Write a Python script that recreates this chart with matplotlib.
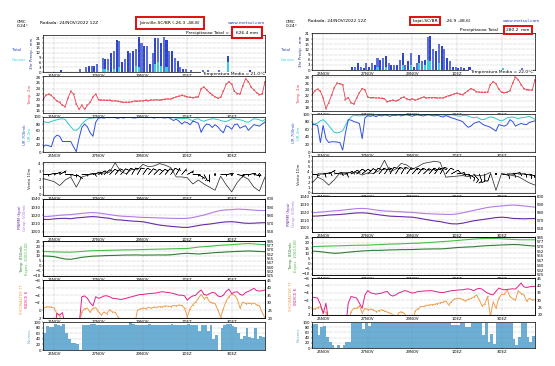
import numpy as np
import matplotlib
matplotlib.use('Agg')
import matplotlib.pyplot as plt

# ---------------- DATA ----------------
date_hours = [12, 60, 108, 156, 204]
date_labels = ['25NOV', '27NOV', '29NOV', '1DEZ', '3DEZ']

# Left panel: Joinville
L_precip_total = [0,0,0,0,0,0,1,0,0,0,0,0,0,2,0,3,4,4,4,5,0,9,8,8,12,13,20,19,6,8,13,12,13,14,22,18,16,16,5,12,
                  21,21,18,22,20,13,13,9,7,3,2,2,0,1,0,0,0,1,0,1,0,0,0,1,0,0,10,0,0,0,0,0,0,0,1,0,0,0,0,0]
L_precip_conv = [0,0,0,0,0,0,0,0,0,0,0,0,0,0,0,0,0,0,0,0,0,2,2,1,0,2,0,3,0,0,0,0,0,4,3,0,0,0,0,0,
                 5,6,4,0,3,0,0,0,0,0,0,0,0,0,0,0,0,0,0,0,0,0,0,0,0,0,6,0,0,0,0,0,0,0,0,0,0,0,0,0]
L_temp = [20,21.5,22,21.5,20.5,19.5,19,18,17.5,20.5,23,22,18.5,16.5,18,16.5,18,19,21,22,
          20,19.8,19.8,19.7,19.8,19.5,19.6,19.4,19.2,19.0,19.1,19.0,19.3,19.5,19.4,19.6,19.5,19.8,19.6,19.9,
          19.8,20.0,19.8,20.0,20.1,20.3,20.2,20.6,21.0,21.2,21.5,21.3,21.0,20.8,20.7,20.9,21.0,24.0,24.5,23.5,
          22.5,21.8,21.0,20.5,20.8,23.0,25.5,26.5,25.5,23.0,22.2,22.0,25.0,27.5,26.5,24.5,23.5,22.5,21.8,22.0,26.5]
L_rh2m = [88,85,84,87,90,92,94,95,93,82,72,63,62,68,80,88,94,96,97,98,98,
          99,98,100,99,98,99,100,99,98,100,99,99,100,98,99,100,99,98,99,100,99,98,99,100,99,98,98,
          97,96,95,96,97,92,90,94,95,90,88,91,93,95,94,93,90,88,87,90,95,95,93,92,90,86,85,90,95,94,92,88,93]
L_rh700 = [15,20,18,15,40,48,45,30,30,30,30,15,1,40,70,80,72,55,45,85,
           97,98,97,99,98,100,98,96,99,97,99,100,98,97,99,100,99,98,100,99,
           97,99,100,98,97,99,95,90,94,88,80,86,84,78,88,86,82,56,72,80,
           78,70,78,72,62,55,75,72,65,78,80,68,72,75,62,70,78,76,74,80,86]
L_wind = [2.1,1.9,1.7,1.2,1.9,2.3,1.0,2.3,2.5,2.7,2.7,2.8,2.9,4.1,3.0,2.7,3.3,3.2,3.9,3.6,
          3.7,4.0,3.8,3.5,2.3,2.3,2.2,1.4,1.9,1.4,1.0,0.6,2.4,1.3,0.4,1.6,2.4,2.0,1.0,0.5,2.3]
L_wdir = [90,80,70,60,90,100,120,90,80,70,60,50,45,40,40,35,30,30,35,40,
          45,45,40,35,30,40,60,90,120,150,180,200,90,80,120,100,90,80,100,120,90]
L_pnmm = [1015.3,1015.0,1015.8,1016.3,1016.5,1016.0,1017.0,1017.5,1018.2,1018.6,1018.0,1017.2,1016.5,1014.8,
          1014.5,1013.8,1013.2,1012.8,1012.3,1011.0,1009.6,1008.3,1007.5,1006.8,1006.2,1005.6,1005.4,1006.5,
          1007.8,1008.8,1009.5,1010.5,1011.5,1012.2,1012.4,1011.8,1010.8,1010.4,1010.6,1011.0,1011.2]
L_geop = [578.6,578.8,579.5,580.2,580.7,581.0,581.8,582.5,583.2,583.5,583.0,582.0,581.0,580.0,579.2,578.8,
          578.5,578.0,577.6,577.5,577.2,577.0,576.8,576.5,576.4,576.3,576.5,577.5,579.0,580.5,582.5,584.5,
          586.0,586.8,587.0,587.7,587.5,587.0,586.5,586.0,586.0]
L_t850 = [10,9.8,9.3,8.0,6.8,6.5,7.5,8.6,9.2,9.8,10,10.3,10.5,10.6,10.8,11,11,11.1,10.9,11,11,11.1,11,11.2,
          11.8,12.5,12.8,12.4,12.1,12.5,13,13.5,13.8,14.2,14.5,14.8,15,15.2,15,14.7,14.5]
L_thick = [567,566.8,566.5,566.2,566,565.9,566.5,567.2,568,568.5,568.8,569,569.3,569.5,569.8,570,570,570.3,
           570.5,570.8,571,571.3,571.5,571.8,572,572.2,572.4,573.5,574.9,575.5,576.2,577.3,578,578.6,579,
           579.8,580.5,580.9,580.4,579.5,579]
L_showalter = [-0.6,-0.9,-0.9,-0.9,-0.6,0.8,1.5, 4,4,4,4,4,4,4,
               0.4,-0.5,-0.6,0.5,-0.6,-0.7,0.4,1.2,0.4,0.9,-0.2,0.4,0.5,1.7, 2.5,4,4,4,4,4,
               0.0,-0.4,-0.6,-0.5,-0.8,-0.6,-0.9,-0.8,-1.0,-0.9,-1.2,-1.1,-1.0,-1.3,-1.2,-1.4,-1.3,
               -0.6,1.7,-0.5,-1.5,-2.2,-3.2,-4.2,-3.1,-3.5,-2.3,-2.0,-1.8,-0.2,1.8,-0.5,-2.5,-3.6,-4.3,-4.0,-3.0,
               -0.6,-2.2,-1.8,-1.9,-1.8,-1.9,-1.5,-1.2,0.6,1.9]
L_kindex = [10,10,10,10,10, 23,22,23.5,15, 10,10,10,10, 15,
            34,34.5,33,30,28,34,33,33.5,34.5,34.6,34,33,32.8,32.5,32.2,32.5,33,33.5,34,34.5,
            35,35.5,35.5,35.8,36,36.2,36.3,36.5,37,37.3,37,36.8,36.5,36.2,35.5,35,35,34.6,31.7,33.5,
            34.5,35,37,38.4,35.5,35,36,36.8,36.5,34.5,34,35,37.5,39,36,37,37.3,35.5,35,36.8,
            37.5,38.5,39.5,38,37.7,38,38.4]
L_cloud = [62,85,82,82,93,88,85,92,60,40,25,25,21,0,
           90,91,90,92,92,90,88,89,90,88,89,90,88,89,90,89,90,100,92,91,90,91,90,91,92,90,91,90,91,90,
           90,91,92,90,91,90,91,90,92,91,90,91,
           67,91,90,67,90,38,55,0,78,88,92,92,85,82,61,38,50,80,45,43,78,40,50,48,35]

# Right panel: Itajai
R_precip_total = [0,0,0,0,0,0,0,0,0,0,0,0,0,0,2,2,4,2,1,4,2,4,3,7,6,7,8,4,3,3,3,6,10,3,5,10,2,4,9,5,
                  6,19,20,12,11,15,14,12,7,5,2,2,1,2,1,0,2,0,0,0,0,0,0,0,0,0,0,0,1,0,0,0,0,0,0,1,0,0,0,0]
R_precip_conv = [0,0,0,0,0,0,0,0,0,0,0,0,0,0,0,0,0,0,0,0,0,0,0,2,0,0,2,0,0,0,0,0,3,0,0,3,0,0,4,0,
                 3,6,5,0,0,4,0,0,0,0,0,0,0,0,0,0,0,0,0,0,0,0,0,0,0,0,0,0,1,0,0,0,0,0,0,0,0,0,0,0]
R_temp = [22,23.5,24,23.3,21,17.5,19.5,22,24.5,26,25.8,25.5,20.5,21.2,19.5,19.0,21,22.8,24.2,23.8,
          21.3,21.1,21.2,21.0,21.1,20.9,20.8,19.8,20.1,20.3,20.0,20.3,21.0,21.4,20.7,20.5,20.8,20.3,20.6,21.0,
          21.4,21.0,21.2,21.1,21.2,21.0,21.1,21.0,21.5,21.8,22.0,22.4,22.6,22.3,22.2,22.8,23.5,24.2,23.8,23.1,
          23.0,22.9,22.9,23.0,25.5,26.5,25.8,24.0,22.9,22.8,22.9,23.5,26.0,28.0,27.2,25.5,24.2,23.8,23.7,23.6,27.2]
R_rh2m = [75,74,76,82,85,78,70,60,52,50,52,56,70,84,92,97,96,95,96,97,96,
          97,98,97,99,98,97,98,99,98,97,98,99,98,97,98,99,98,98,97,98,99,98,97,98,99,98,97,98,97,98,
          97,95,94,96,96,95,92,90,92,88,85,86,90,92,91,88,84,82,85,90,91,92,90,88,90,91,92,94,90,86]
R_rh700 = [72,72,70,25,70,35,25,27,27,26,25,5,50,85,84,80,78,75,35,90,
           95,94,96,93,97,95,98,96,94,97,96,98,95,97,99,96,94,97,98,96,
           95,97,98,96,95,97,94,92,96,93,90,88,85,83,80,72,65,68,75,78,
           80,74,70,68,65,60,55,72,70,68,72,85,80,68,72,75,73,72,78,80,82]
R_wind = [1.9,3.0,2.5,1.5,2.5,3.8,3.9,3.8,3.9,3.4,3.8,3.7,4.2,6.2,4.0,4.5,5.6,5.3,4.5,5.0,
          5.6,5.8,6.0,5.8,3.0,3.1,3.2,3.3,3.1,3.4,3.3,3.4,3.9,0.5,3.7,3.5,3.3,3.1,2.5,1.9,1.5]
R_wdir = [100,90,80,60,80,90,70,60,50,50,45,40,40,35,30,30,30,35,40,40,
          45,40,35,30,40,60,80,100,120,140,160,180,200,220,100,90,80,90,100,110,100]
R_pnmm = [1014.8,1015.0,1015.5,1016.2,1016.5,1016.9,1017.5,1018.2,1018.8,1019.0,1018.5,1017.5,1016.5,1015.6,
          1014.8,1014.5,1014.2,1013.8,1013.5,1012.5,1011.2,1010.0,1008.8,1008.0,1006.5,1005.3,1005.1,1006.0,
          1007.5,1009.0,1010.0,1011.0,1012.0,1013.0,1013.5,1013.0,1012.0,1011.8,1011.5,1011.8,1011.8]
R_geop = [579.0,579.5,580.2,580.8,581.5,582.0,582.8,583.5,584.2,584.5,584.0,583.0,582.0,581.3,581.0,580.5,
          580.2,579.8,579.5,578.8,578.2,577.8,577.5,577.2,577.0,576.9,577.5,579.0,580.5,582.0,583.5,585.0,
          586.2,587.0,587.5,588.2,588.7,588.3,587.5,586.8,586.1]
R_t850 = [12.1,11.8,11.2,10.5,10,10.2,10.8,11.3,11.8,12.2,12.5,12.8,12.8,13,13.2,13.3,13.5,13.5,13.6,13.8,
          14,14.1,14.2,14.2,14.5,15,15.5,15.8,16.1,16.3,16.8,17.2,17.5,17.7,18,18.2,18.4,18.3,17.8,17.3,17]
R_thick = [570,570.3,570.6,570.9,571.1,571.3,571.6,571.9,572.1,572.2,572.4,572.8,573.2,573.6,574,574.2,
           574.5,574.9,575.3,575.6,576,576.5,577.2,577.8,578.4,579,579.8,580.6,581.3,582,582.5,583,583.2,
           583,582.5,582,581.5,581,580.9,580.9,580.9]
R_showalter = [0.6,0.3,0.0,-0.3,1.1,1.2, 5,5,5,5,5,5,5,5,
               1.1,0.2,0.2,-0.5,1.5,0.2,0.6,0.4,0.6,1.1,0.8,0.6,0.9,1.2,1.5,1.9, 5,
               1.5,1.1,1.5,2.5, 5,5,
               0.9,0.3,-0.3,-0.3,-0.6,-0.7,-0.8,-0.9,-1.1,-1.3,-1.5,-1.8,-0.7,-1.6,-2.3,-2.5,-2.5,-2.2,-1.8,-2.2,
               -2.5,-2.8,-3.5,-2.1,-0.5,-1.0,-3.0,2.5,-1.6,0.2,-2.5,-3.6,-3.6,-4.8,-3.0,-2.4,-2.1,-4.6,-3.8,-3.5,
               -1.8,-2.5,-2.1,-2.1]
R_kindex = [32,31.8,31.4,27.3,21,28,15, 10,10,10,10,10,10,
            28,32.5,32,31.4,28,24.5,33.6,36.5,35,34.5,34.1,34.5,34.8,35.5,35.9,33.6,32.8,33.5,34.8,35.5,
            36.4,36.2,35.5,34.8,35.2,35.9,36,36.2,36.3,36.4,36.4,36,35.6,35.3,35.2,35.6,36,36.4,36.6,36.8,
            37,37,37.4,37.7,37.2,36.4,37.5,38,37.5,36,34.8,34,33.6,36,38.2,37.5,37,37.3,37.5,37.7,
            37.5,39.5,41.6,39,38.6,39,39.3,39.3]
R_cloud = [94,94,50,80,85,42,23,10,0,10,0,10,23,23,97,97,97,97,74,97,85,
           97,96,97,97,95,97,97,97,96,97,97,97,97,95,97,97,97,97,96,97,97,97,97,97,95,97,97,97,97,
           87,87,87,97,97,81,81,97,97,97,97,49,97,23,55,17,97,97,97,97,97,97,36,10,42,97,97,42,23,45,45]

time3 = np.arange(0, 241, 3)
time6 = np.arange(0, 241, 6)
bar_t = np.arange(0, 240, 3) + 1.5

# ---------------- FIGURE ----------------
W, H = 555, 366
fig = plt.figure(figsize=(W / 100, H / 100), dpi=100)
FS = 2.8

C_TOT = '#2d42c8'
C_CONV = '#38d0e0'
C_TEMP = '#e8404c'
C_RH2 = '#30c8c8'
C_RH7 = '#3050e0'
C_PN = '#6a2aa8'
C_GEO = '#b47ae6'
C_T85 = '#2f7d2f'
C_THK = '#44c044'
C_SHO = '#f0a050'
C_K = '#e0208a'
C_CLD = '#6baed6'


def add_ax(x0, x1, top, bot):
    return fig.add_axes([x0 / W, 1 - bot / H, (x1 - x0) / W, (bot - top) / H])


def base(ax, ylim, yticks, ylabels=None, xlabels=date_labels):
    ax.set_xlim(0, 240)
    ax.set_ylim(*ylim)
    ax.set_yticks(yticks)
    if ylabels is not None:
        ax.set_yticklabels(ylabels)
    ax.set_xticks(date_hours)
    ax.set_xticklabels(xlabels)
    ax.tick_params(labelsize=FS, length=1, width=0.3, pad=0.6)
    ax.grid(True, ls=':', lw=0.35, color='#8c8c8c')
    for s in ax.spines.values():
        s.set_linewidth(0.5)


def twin(ax, ylim, yticks, ylabels=None):
    a2 = ax.twinx()
    a2.set_ylim(*ylim)
    a2.set_yticks(yticks)
    if ylabels is not None:
        a2.set_yticklabels(ylabels)
    a2.tick_params(labelsize=FS, length=1, width=0.3, pad=0.6)
    for s in a2.spines.values():
        s.set_linewidth(0.5)
    return a2


def vlabel(x, yc, txt, color):
    fig.text(x / W, 1 - yc / H, txt, rotation=90, ha='center', va='center',
             fontsize=FS, color=color)


def panel(x0, x1, rows, ptot, pconv, pmax, temp, tlim, tticks, rh2, rh7,
          wspd, wdir, wlim, wticks, barb_y, pnmm, geop, t850, thick, sho, kidx, cloud,
          tmean_txt, tmean_x, tmean_y):
    lx1, lx2 = x0 - 20, x0 - 15
    # precipitation
    r = rows[0]
    ax = add_ax(x0, x1, *r)
    base(ax, (0, pmax), [0, 3, 6, 9, 12, 15, 18, 21], xlabels=date_labels[:4] + [''])
    cols = [C_TOT if i % 2 == 0 else '#5a6fe0' for i in range(len(ptot))]
    ax.bar(bar_t, ptot, width=2.2, color=cols, lw=0)
    ax.bar(bar_t, pconv, width=2.2, color=C_CONV, lw=0)
    vlabel(x0 - 11, (r[0] + r[1]) / 2, '3hr Precip - mm', '#203080')
    fig.text((x0 - 31) / W, 1 - 50 / H, 'Total', fontsize=FS, color=C_TOT, ha='left', va='center')
    fig.text((x0 - 31) / W, 1 - 60 / H, 'Convec', fontsize=FS, color=C_CONV, ha='left', va='center')
    # temperature
    r = rows[1]
    ax = add_ax(x0, x1, *r)
    base(ax, tlim, tticks)
    ax.plot(time3, temp, color=C_TEMP, lw=0.6, marker='+', ms=1.4, mew=0.3)
    vlabel(lx2 + 2, (r[0] + r[1]) / 2, 'Temp. 2m', C_TEMP)
    fig.text(tmean_x / W, 1 - tmean_y / H, tmean_txt, fontsize=3.2, ha='right', va='center',
             bbox=dict(fc='white', ec='none', pad=0.3), zorder=10)
    # relative humidity
    r = rows[2]
    ax = add_ax(x0, x1, *r)
    base(ax, (0, 100), [0, 20, 40, 60, 80, 100])
    ax.plot(time3, rh2, color=C_RH2, lw=0.7)
    ax.plot(time3, rh7, color=C_RH7, lw=0.7)
    vlabel(lx1 + 2, (r[0] + r[1]) / 2, 'UR 700mb', C_RH7)
    vlabel(lx2 + 2, (r[0] + r[1]) / 2, 'UR 2m', C_RH2)
    # wind
    r = rows[3]
    ax = add_ax(x0, x1, *r)
    base(ax, wlim, wticks)
    ax.plot(time6, wspd, color='#222222', lw=0.5)
    spd_kt = np.array(wspd) * 1.94 * 1.6
    rad = np.deg2rad(np.array(wdir))
    u = -spd_kt * np.sin(rad)
    v = -spd_kt * np.cos(rad)
    ax.barbs(time6, np.full(len(time6), barb_y), u, v, length=3.3, linewidth=0.35,
             color='k', sizes=dict(emptybarb=0.1, spacing=0.18, height=0.45))
    vlabel(lx2 + 2, (r[0] + r[1]) / 2, 'Vento 10m', '#222222')
    # pressure / geopotential
    r = rows[4]
    ax = add_ax(x0, x1, *r)
    base(ax, (995, 1040), [1000, 1010, 1020, 1030, 1040])
    ax.plot(time6, pnmm, color=C_PN, lw=0.8)
    a2 = twin(ax, (555, 600), [560, 570, 580, 590, 600])
    a2.plot(time6, geop, color=C_GEO, lw=0.8)
    vlabel(lx1 - 3, (r[0] + r[1]) / 2, 'PNMM (hpa)', C_PN)
    vlabel(lx2 - 3, (r[0] + r[1]) / 2, 'Geop. 500mb', C_GEO)
    # 850 temperature / thickness
    r = rows[5]
    ax = add_ax(x0, x1, *r)
    base(ax, (-11, 25.7), [-10, -5, 0, 5, 10, 15, 20, 25])
    ax.plot(time6, t850, color=C_T85, lw=0.8)
    a2 = twin(ax, (524.5, 585.4), [525, 532.5, 540, 547.5, 555, 562.5, 570, 577.5, 585],
              ['525', '532', '540', '547', '555', '562', '570', '577', '585'])
    a2.plot(time6, thick, color=C_THK, lw=0.8)
    vlabel(lx1 - 1, (r[0] + r[1]) / 2, 'Temp. 850mb', C_T85)
    vlabel(lx2 - 1, (r[0] + r[1]) / 2, 'Espes. 1000-500', C_THK)
    # showalter / K index
    r = rows[6]
    ax = add_ax(x0, x1, *r)
    base(ax, (2, -8), [-8, -6, -4, -2, 0, 2])
    ax.plot(time3, sho, color=C_SHO, lw=0.7, marker='o', ms=0.8, mew=0)
    a2 = twin(ax, (20, 45), [20, 25, 30, 35, 40, 45])
    a2.plot(time3, kidx, color=C_K, lw=0.7)
    vlabel(lx1 - 1, (r[0] + r[1]) / 2, 'SHOWALTER TT', C_SHO)
    vlabel(lx2 - 1, (r[0] + r[1]) / 2, 'INDICE K', C_K)
    # cloud cover
    r = rows[7]
    ax = add_ax(x0, x1, *r)
    base(ax, (0, 100), [0, 20, 40, 60, 80, 100])
    ax.bar(time3, cloud, width=3, align='edge', color=C_CLD, lw=0)
    vlabel(lx2 + 2, (r[0] + r[1]) / 2, 'Nuvens', C_CLD)


rows_L = [(35, 72), (76, 113), (117, 152), (162, 195), (199, 236), (241, 276), (280, 318), (322, 350)]
rows_R = [(33, 70), (75, 111), (114, 152), (156, 193), (196, 232), (237, 275), (278, 315), (322, 348)]

panel(43, 265, rows_L, L_precip_total, L_precip_conv, 23, L_temp, (15.2, 28.5),
      [16, 18, 20, 22, 24, 26, 28], L_rh2m, L_rh700, L_wind, L_wdir, (0, 4.2), [0, 1, 2, 3, 4], 2.6,
      L_pnmm, L_geop, L_t850, L_thick, L_showalter, L_kindex, L_cloud,
      'Temperatura Media = 21.0°C', 265, 74)
panel(312, 535, rows_R, R_precip_total, R_precip_conv, 21.5, R_temp, (16.7, 28.7),
      [18, 20, 22, 24, 26, 28], R_rh2m, R_rh700, R_wind, R_wdir, (0, 7), [0, 1, 2, 3, 4, 5, 6, 7], 3.6,
      R_pnmm, R_geop, R_t850, R_thick, R_showalter, R_kindex, R_cloud,
      'Temperatura Media = 22.0°C', 533, 72)

# ---------------- HEADERS ----------------
TF = 3.2
# left
fig.text(17 / W, 1 - 24 / H, 'CMC\n0.24°', fontsize=TF, va='center', linespacing=1.0)
fig.text(40 / W, 1 - 23 / H, 'Rodada: 24/NOV/2022 12Z', fontsize=TF, va='center')
fig.text(170 / W, 1 - 23 / H, 'Joinville-SC/BR (-26.3 -48.8)', fontsize=TF, ha='center', va='center',
         bbox=dict(fc='white', ec='#e01010', lw=1.4, pad=2.6))
fig.text(265 / W, 1 - 23 / H, 'www.metsul.com', fontsize=TF, ha='right', va='center', color='#2040c0')
fig.text(229 / W, 1 - 33 / H, 'Precipitacao Total =', fontsize=TF, ha='right', va='center')
fig.text(247 / W, 1 - 32.5 / H, '626.4 mm', fontsize=TF, ha='center', va='center',
         bbox=dict(fc='white', ec='#e01010', lw=1.5, pad=2.8))
# right
fig.text(286 / W, 1 - 24 / H, 'CMC\n0.24°', fontsize=TF, va='center', linespacing=1.0)
fig.text(308 / W, 1 - 21 / H, 'Rodada: 24/NOV/2022 12Z', fontsize=TF, va='center')
fig.text(425 / W, 1 - 21 / H, 'Itajai-SC/BR', fontsize=TF, ha='center', va='center',
         bbox=dict(fc='white', ec='#e01010', lw=1.4, pad=1.6))
fig.text(445 / W, 1 - 21 / H, '-26.9 -48.6)', fontsize=TF, ha='left', va='center')
fig.text(540 / W, 1 - 21 / H, 'www.metsul.com', fontsize=TF, ha='right', va='center', color='#2040c0')
fig.text(498 / W, 1 - 30 / H, 'Precipitacao Total', fontsize=TF, ha='right', va='center')
fig.text(518 / W, 1 - 30 / H, '280.2  mm', fontsize=TF, ha='center', va='center',
         bbox=dict(fc='white', ec='#e01010', lw=1.4, pad=1.8))

fig.savefig('out.png', dpi=100)
